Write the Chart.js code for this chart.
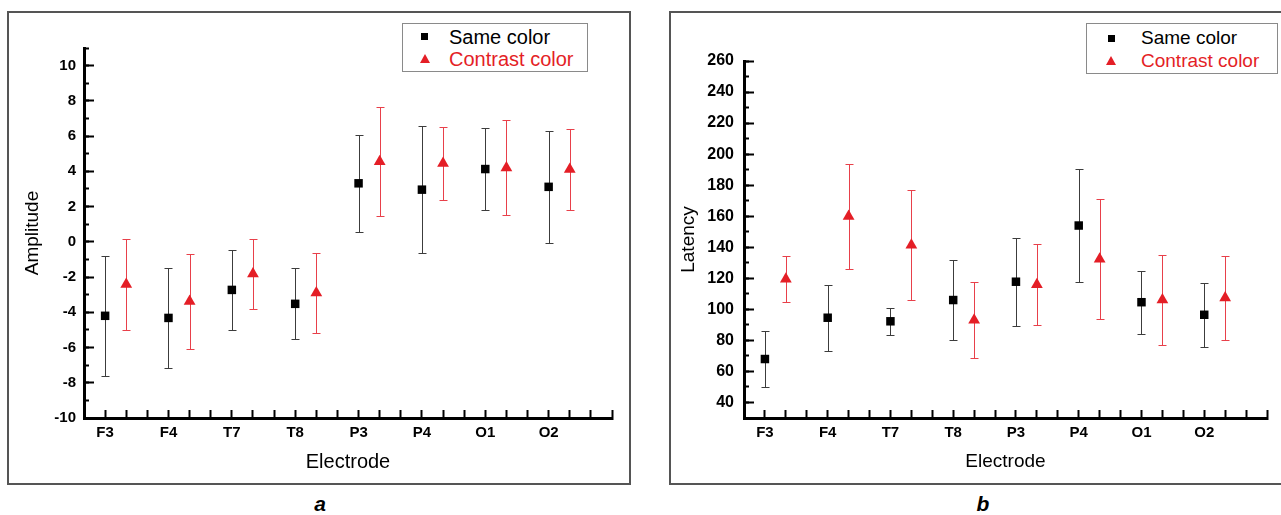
<!DOCTYPE html>
<html><head><meta charset="utf-8">
<script src="https://cdn.jsdelivr.net/npm/chart.js@4.4.1/dist/chart.umd.min.js"></script>
<style>
html,body{margin:0;padding:0;background:#fff;width:1281px;height:515px;overflow:hidden;font-family:"Liberation Sans",Arial,sans-serif;}
.frame{position:absolute;border:2px solid #555;box-sizing:border-box;}
#frameA{left:7px;top:11px;width:624px;height:474px;}
#frameB{left:669px;top:11px;width:640px;height:474px;}
canvas{position:absolute;}
#ca{left:9px;top:14px;}
#cb{left:672px;top:14px;}
.legend{position:absolute;border:1.5px solid #8a8a8a;background:#fff;box-sizing:border-box;}
.lt{position:absolute;white-space:nowrap;line-height:22px;}
.sq{position:absolute;width:7px;height:7px;background:#000;}
.tri{position:absolute;width:0;height:0;border-left:5px solid transparent;border-right:5px solid transparent;border-bottom:9px solid #e41e26;}
.red{color:#e41e26;}
.plab{position:absolute;width:60px;text-align:center;font-weight:bold;font-style:italic;font-size:21px;line-height:24px;}
</style>
</head>
<body>
<div class="frame" id="frameA"></div>
<div class="frame" id="frameB"></div>
<canvas id="ca" width="620" height="469"></canvas>
<canvas id="cb" width="609" height="469"></canvas>

<div class="legend" style="left:402px;top:23px;width:186px;height:49px;"></div>
<div class="sq" style="left:421px;top:33px;"></div>
<div class="tri" style="left:420px;top:54px;"></div>
<div class="lt" style="left:449px;top:26px;font-size:20px;">Same color</div>
<div class="lt red" style="left:449px;top:48px;font-size:20px;">Contrast color</div>

<div class="legend" style="left:1086px;top:23px;width:192px;height:51px;"></div>
<div class="sq" style="left:1108px;top:35px;"></div>
<div class="tri" style="left:1106px;top:56px;"></div>
<div class="lt" style="left:1141px;top:27px;font-size:19px;">Same color</div>
<div class="lt red" style="left:1141px;top:50px;font-size:19px;">Contrast color</div>

<div class="plab" style="left:290px;top:492px;">a</div>
<div class="plab" style="left:953px;top:492px;">b</div>

<script>
// ---- Data ----
const categories = ['F3','F4','T7','T8','P3','P4','O1','O2'];
const seriesNames = ['Same color','Contrast color'];

// Panel a: Amplitude (mean, SD)
const ampSame       = [-4.2, -4.32, -2.73, -3.52, 3.32, 2.96, 4.13, 3.12];
const ampSameSD     = [3.42, 2.86, 2.25, 2.02, 2.74, 3.6, 2.32, 3.17];
const ampContrast   = [-2.41, -3.38, -1.82, -2.89, 4.55, 4.45, 4.2, 4.11];
const ampContrastSD = [2.57, 2.68, 1.97, 2.28, 3.1, 2.07, 2.69, 2.31];

// Panel b: Latency (mean, SD)
const latSame       = [68, 94.6, 92.3, 106, 117.8, 154, 104.6, 96.5];
const latSameSD     = [18.1, 21.2, 8.7, 25.9, 28.4, 36.2, 20.4, 20.7];
const latContrast   = [119.5, 159.9, 141.4, 93.1, 115.9, 132.4, 106.1, 107.4];
const latContrastSD = [14.7, 34, 35.3, 24.2, 26.3, 38.5, 29, 27];

// Axis ranges / tick steps
const ampRange = {min: -10, max: 11, major: 2, minor: 1};
const latRange = {min: 30, max: 260, major: 20, minor: 10};

const RED = '#e41e26';
const FONT = "'Liberation Sans', Arial, sans-serif";

const errorBarPlugin = {
  id: 'errorBars',
  beforeDatasetsDraw(chart) {
    const {ctx} = chart;
    const xs = chart.scales.x, ys = chart.scales.y;
    chart.data.datasets.forEach((ds, i) => {
      const meta = chart.getDatasetMeta(i);
      if (meta.hidden) return;
      ctx.save();
      ctx.strokeStyle = ds.errorColor;
      ctx.lineWidth = 1;
      ds.data.forEach((pt, j) => {
        const sd = ds.errors[j];
        const px = Math.round(xs.getPixelForValue(pt.x)) + 0.5;
        const yt = Math.round(ys.getPixelForValue(pt.y + sd)) + 0.5;
        const yb = Math.round(ys.getPixelForValue(pt.y - sd)) + 0.5;
        ctx.beginPath();
        ctx.moveTo(px, yt); ctx.lineTo(px, yb);
        ctx.moveTo(px - 4, yt); ctx.lineTo(px + 4, yt);
        ctx.moveTo(px - 4, yb); ctx.lineTo(px + 4, yb);
        ctx.stroke();
      });
      ctx.restore();
    });
  }
};

function makePanel(id, cfg) {
  const same = cfg.same.map((v, i) => ({x: (i + 1) * 3, y: v}));
  const contrast = cfg.contrast.map((v, i) => ({x: (i + 1) * 3 + 1, y: v}));
  return new Chart(document.getElementById(id), {
    type: 'scatter',
    data: {
      datasets: [
        {label: seriesNames[0], data: same, errors: cfg.sameSD, errorColor: '#3c3c3c',
         pointStyle: 'rect', pointRadius: 6, backgroundColor: '#000', borderColor: '#000', borderWidth: 0},
        {label: seriesNames[1], data: contrast, errors: cfg.contrastSD, errorColor: '#e8404a',
         pointStyle: 'triangle', pointRadius: 6.8, backgroundColor: RED, borderColor: RED, borderWidth: 0}
      ]
    },
    options: {
      responsive: false,
      animation: false,
      layout: {padding: {left: 0, top: cfg.padTop, right: cfg.padRight, bottom: 0}},
      plugins: {legend: {display: false}, tooltip: {enabled: false}},
      scales: {
        x: {
          type: 'linear', min: 2, max: 27,
          afterFit(s) { s.height = cfg.xHeight; },
          border: {display: true, color: '#000', width: 3},
          grid: {display: true, drawOnChartArea: false, drawTicks: true, tickLength: -8, tickWidth: 2, tickColor: '#000', color: '#000'},
          ticks: {
            stepSize: 1, autoSkip: false, maxRotation: 0, padding: 14, color: '#000',
            font: {family: FONT, size: 15, weight: 'bold'},
            callback: (v) => (v % 3 === 0 && v / 3 >= 1 && v / 3 <= categories.length) ? categories[v / 3 - 1] : ''
          },
          title: {display: true, text: 'Electrode', color: '#000',
                  font: {family: FONT, size: cfg.xTitleSize}, padding: {top: 0, bottom: cfg.xTitlePad}}
        },
        y: {
          type: 'linear', position: 'left', weight: 1, min: cfg.range.min, max: cfg.range.max,
          afterFit(s) { s.width = cfg.yWidth; },
          border: {display: true, color: '#000', width: 3},
          grid: {display: true, drawOnChartArea: false, drawTicks: true, tickLength: -10, tickWidth: 2, tickColor: '#000', color: '#000'},
          ticks: {
            stepSize: cfg.range.major, includeBounds: false, autoSkip: false, padding: cfg.yLabelPad, color: '#000',
            font: {family: FONT, size: cfg.yTickSize, weight: 'bold'},
            callback: (v) => String(v)
          },
          title: {display: true, text: cfg.yTitle, color: '#000',
                  font: {family: FONT, size: 19}, padding: {top: cfg.yTitlePad, bottom: 0}}
        },
        yMinor: {
          type: 'linear', position: 'left', weight: 0, min: cfg.range.min, max: cfg.range.max,
          afterFit(s) { s.width = 0; },
          border: {display: false},
          grid: {display: true, drawOnChartArea: false, drawTicks: true, tickLength: -5, tickWidth: 2, tickColor: '#000', color: '#000'},
          ticks: {stepSize: cfg.range.minor, autoSkip: false, display: false},
          title: {display: false}
        }
      }
    },
    plugins: [errorBarPlugin]
  });
}

makePanel('ca', {
  same: ampSame, sameSD: ampSameSD, contrast: ampContrast, contrastSD: ampContrastSD,
  range: ampRange, yTitle: 'Amplitude',
  padTop: 34, padRight: 17, xHeight: 65, yWidth: 75,
  xTitleSize: 20, xTitlePad: 9, yTitlePad: 12, yTickSize: 15, yLabelPad: 18
});
makePanel('cb', {
  same: latSame, sameSD: latSameSD, contrast: latContrast, contrastSD: latContrastSD,
  range: latRange, yTitle: 'Latency',
  padTop: 47, padRight: 12, xHeight: 65, yWidth: 72,
  xTitleSize: 19, xTitlePad: 10, yTitlePad: 5, yTickSize: 16, yLabelPad: 20
});
</script>
</body></html>
